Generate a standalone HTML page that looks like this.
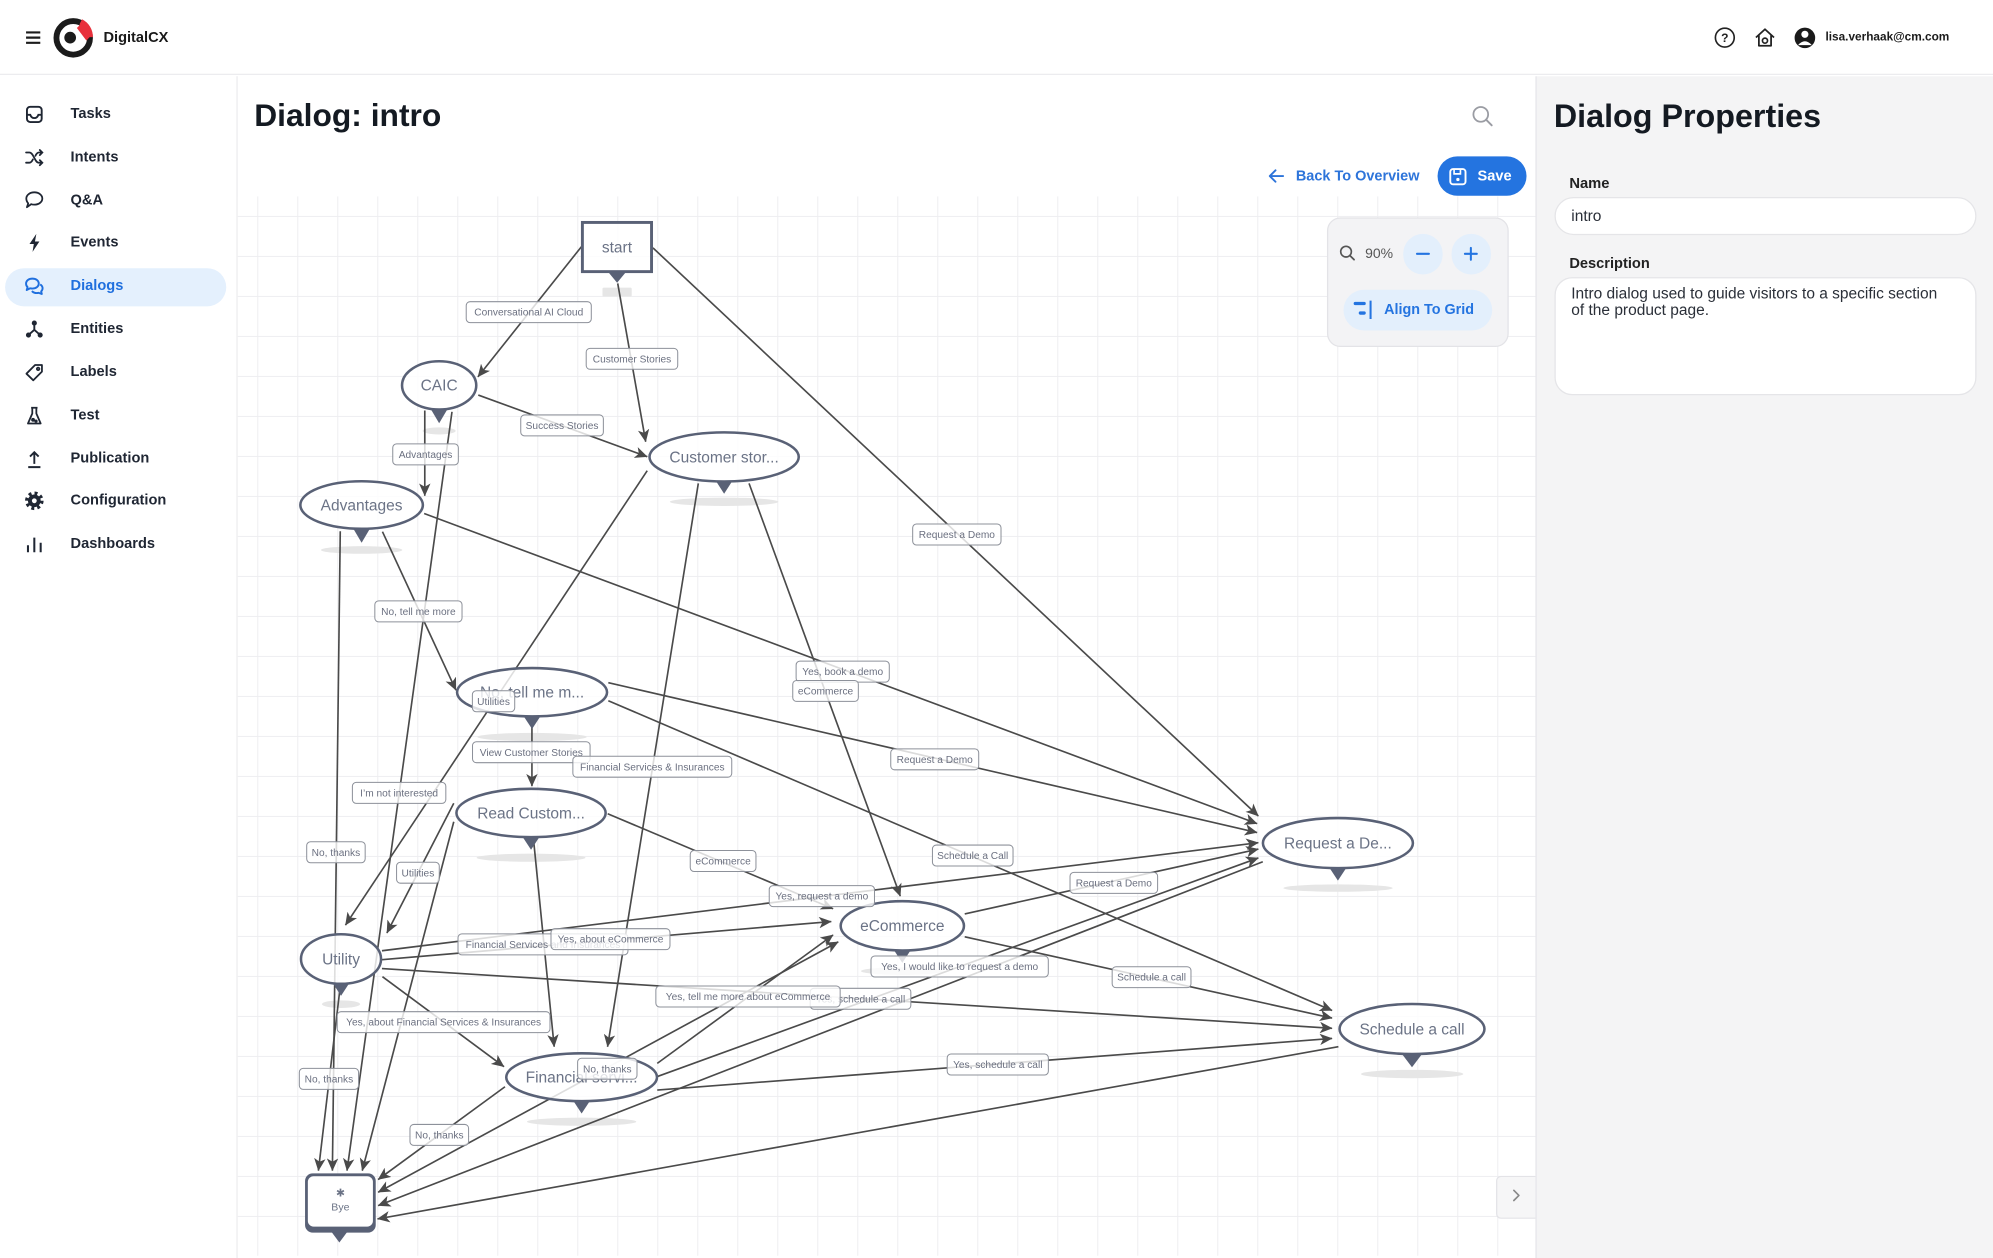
<!DOCTYPE html>
<html><head><meta charset="utf-8">
<style>
html,body{margin:0;padding:0;width:1993px;height:1255px;overflow:hidden;background:#fff;}
#root{position:absolute;left:0;top:0;width:1568px;height:988px;transform:scale(1.27105);transform-origin:0 0;font-family:"Liberation Sans",Arial,sans-serif;color:#1f2530;}
.abs{position:absolute;}
.nav{position:absolute;left:55.5px;font-size:11.5px;font-weight:bold;color:#1f2633;line-height:14px;white-space:nowrap;}
.ico{position:absolute;left:18.5px;width:16px;height:16px;}
.t{white-space:nowrap;position:absolute;}
</style></head>
<body><div id="root">

<!-- header -->
<div class="abs" style="left:0;top:0;width:1568px;height:58px;background:#fff;border-bottom:1.6px solid #ececef;"></div>
<svg class="abs" style="left:0;top:0" width="1568" height="58" viewBox="0 0 1568 58">
  <path d="M20.5 25.5h11.2M20.5 29.6h11.2M20.5 33.7h11.2" stroke="#1c1c1c" stroke-width="1.7"/>
  <circle cx="57.6" cy="29.8" r="13.2" fill="none" stroke="#1b1b1b" stroke-width="4.6"/>
  <path d="M63.5 17.2 A13.2 13.2 0 0 1 70.8 29.2" fill="none" stroke="#e8313c" stroke-width="4.6"/>
  <path d="M60.5 22 L68 32 L71.5 28 L64 18.5 Z" fill="#e8313c"/>
  <circle cx="55.2" cy="29.6" r="4.6" fill="#1b1b1b"/>
  <circle cx="1357" cy="29.6" r="7.4" fill="none" stroke="#222" stroke-width="1.3"/>
  <text x="1357" y="33.1" font-size="9.5" font-weight="bold" text-anchor="middle" fill="#222" font-family="Liberation Sans, sans-serif">?</text>
  <path d="M1381.5 29.5 L1388.6 23 L1395.7 29.5 M1383.8 27.8 V36 H1393.4 V27.8" fill="none" stroke="#222" stroke-width="1.4" stroke-linejoin="round"/>
  <circle cx="1388.6" cy="32" r="2" fill="none" stroke="#222" stroke-width="1.3"/>
  <circle cx="1420" cy="29.8" r="8.1" fill="#1a1a1a"/>
  <circle cx="1420" cy="27" r="2.8" fill="#fff"/>
  <path d="M1414.6 35.5 Q1420 29.5 1425.4 35.5" fill="#fff"/>
</svg>
<div class="t" style="left:81.4px;top:23.3px;font-size:11.5px;line-height:14px;font-weight:bold;color:#1a1a1a;">DigitalCX</div>
<div class="t" style="left:1436.2px;top:23.4px;font-size:9.3px;line-height:12px;font-weight:bold;color:#1a1a1a;">lisa.verhaak@cm.com</div>

<!-- sidebar -->
<div class="abs" style="left:0;top:59.6px;width:186px;height:930px;background:#fff;border-right:1.3px solid #ebebee;"></div>
<div class="abs" style="left:4px;top:211px;width:174px;height:30px;border-radius:15px;background:#e4f0fd;"></div>

<svg class="ico" style="top:81.7px" viewBox="0 0 16 16" fill="none" stroke="#1f2633" stroke-width="1.5"><rect x="2.2" y="2" width="11.6" height="12" rx="2.6"/><path d="M2.2 8.3h2.6c.6 1.7 1.7 2.6 3.2 2.6s2.6-.9 3.2-2.6h2.6"/></svg>
<div class="nav" style="top:82.8px">Tasks</div>

<svg class="ico" style="top:115.5px" viewBox="0 0 16 16" fill="none" stroke="#1f2633" stroke-width="1.4" stroke-linecap="round"><path d="M1.5 4h2.6c3.4 0 4.2 8 7.4 8h2.5M1.5 12h2.6c1.3 0 2.1-1.1 2.8-2.6M8.9 6.6C9.6 5 10.4 4 11.6 4h2.4M12.3 2l2 2-2 2M12.3 10l2 2-2 2"/></svg>
<div class="nav" style="top:116.6px">Intents</div>

<svg class="ico" style="top:149.4px" viewBox="0 0 16 16" fill="none" stroke="#1f2633" stroke-width="1.4" stroke-linejoin="round"><path d="M8 2.3c3.6 0 6.3 2.2 6.3 4.9S11.6 12 8 12c-.9 0-1.7-.1-2.4-.4L2.2 14l1-3C2.3 10 1.7 8.7 1.7 7.2 1.7 4.5 4.4 2.3 8 2.3z"/></svg>
<div class="nav" style="top:150.5px">Q&amp;A</div>

<svg class="ico" style="top:183.2px" viewBox="0 0 16 16"><path d="M9.6 1L4.2 9h3.4L6.6 15.2 12 7H8.5z" fill="#1f2633"/></svg>
<div class="nav" style="top:184.3px">Events</div>

<svg class="ico" style="top:217.3px" viewBox="0 0 16 16" fill="none" stroke="#1f6fde" stroke-width="1.5" stroke-linejoin="round"><path d="M6.5 2.2c2.9 0 5 1.7 5 3.9s-2.1 3.9-5 3.9c-.6 0-1.2-.1-1.7-.2L2 11.2l.7-2.3C1.9 8.2 1.5 7.2 1.5 6.1c0-2.2 2.1-3.9 5-3.9z"/><path d="M12.6 6.8c1.2.7 1.9 1.8 1.9 3 0 1-.4 1.8-1.1 2.5l.5 2-2.4-.9c-.5.1-1 .2-1.5.2-1.6 0-3-.6-3.9-1.6"/></svg>
<div class="nav" style="top:218.4px;color:#1f6fde">Dialogs</div>

<svg class="ico" style="top:250.9px" viewBox="0 0 16 16"><path d="M8 4v4.5L4 12M8 8.5l4 3.5" stroke="#1f2633" stroke-width="1.5" fill="none"/><circle cx="8" cy="3.2" r="2" fill="#1f2633"/><circle cx="3.4" cy="12.6" r="2" fill="#1f2633"/><circle cx="12.6" cy="12.6" r="2" fill="#1f2633"/></svg>
<div class="nav" style="top:252px">Entities</div>

<svg class="ico" style="top:284.9px" viewBox="0 0 16 16" fill="none" stroke="#1f2633" stroke-width="1.4" stroke-linejoin="round"><path d="M1.8 9L8.6 2.2 14 2.2 14 7.4 7.2 14.2z"/><circle cx="11" cy="5.2" r="1"/></svg>
<div class="nav" style="top:286px">Labels</div>

<svg class="ico" style="top:318.5px" viewBox="0 0 16 16" fill="none" stroke="#1f2633" stroke-width="1.4" stroke-linejoin="round"><path d="M5.5 1.8h5M6.4 1.8v4.5L3 14.2h10L9.6 6.3V1.8"/><circle cx="7" cy="11.3" r=".8" fill="#1f2633"/><circle cx="9.3" cy="12.3" r=".6" fill="#1f2633"/></svg>
<div class="nav" style="top:319.6px">Test</div>

<svg class="ico" style="top:352.6px" viewBox="0 0 16 16" fill="none" stroke="#1f2633" stroke-width="1.5"><path d="M8 12V2.8M4.6 6.2L8 2.8l3.4 3.4M3.2 14.5h9.6"/></svg>
<div class="nav" style="top:353.7px">Publication</div>

<svg class="ico" style="top:386.2px" viewBox="0 0 16 16"><circle cx="8" cy="8" r="6" fill="none" stroke="#1f2633" stroke-width="2.6" stroke-dasharray="2.3 2.41"/><circle cx="8" cy="8" r="5" fill="#1f2633"/><circle cx="8" cy="8" r="1.9" fill="#fff"/></svg>
<div class="nav" style="top:387.3px">Configuration</div>

<svg class="ico" style="top:420.3px" viewBox="0 0 16 16" fill="none" stroke="#1f2633" stroke-width="1.6"><path d="M3 14.5V9M8 14.5V3M13 14.5V7"/></svg>
<div class="nav" style="top:421.4px">Dashboards</div>

<!-- main title -->
<div class="t" style="left:200px;top:78px;font-size:25px;line-height:26px;font-weight:bold;color:#141a22;">Dialog: intro</div>
<svg class="abs" style="left:1156px;top:82px" width="22" height="20" viewBox="0 0 22 20"><circle cx="9" cy="8" r="5.8" fill="none" stroke="#9a9ca3" stroke-width="1.4"/><path d="M13.2 12.2 L17.6 16.6" stroke="#9a9ca3" stroke-width="1.5" stroke-linecap="round"/></svg>

<!-- diagram -->
<svg class="abs" style="left:0;top:0" width="1568" height="988" viewBox="0 0 1568 988">
<defs>
  <pattern id="grid" x="202.4" y="169.9" width="31.47" height="31.47" patternUnits="userSpaceOnUse">
    <path d="M0.4,0 V31.47 M0,0.4 H31.47" stroke="#eeeef1" stroke-width="0.75" fill="none"/>
  </pattern>
  <marker id="ar" viewBox="0 0 10 9" refX="9.6" refY="4.5" markerWidth="10" markerHeight="9" markerUnits="userSpaceOnUse" orient="auto-start-reverse">
    <path d="M0,0 L10,4.5 L0,9 L2.6,4.5 z" fill="#4a4a4a"/>
  </marker>
  <clipPath id="cv"><rect x="187" y="154.5" width="1021.3" height="834"/></clipPath>
</defs>
<g clip-path="url(#cv)">
  <rect x="187" y="154.5" width="1021.3" height="834" fill="#fff"/>
  <rect x="187" y="154.5" width="1021.3" height="834" fill="url(#grid)"/>

  <!-- shadows -->
  <g fill="#e6e6e6">
    <rect x="474" y="226.3" width="23" height="7" rx="1"/>
    <ellipse cx="345.5" cy="339" rx="13" ry="2.8"/>
    <ellipse cx="569.7" cy="394.8" rx="42.7" ry="3.3"/>
    <ellipse cx="284.5" cy="432.7" rx="32" ry="3"/>
    <ellipse cx="418.6" cy="579.8" rx="43" ry="3.2"/>
    <ellipse cx="417.8" cy="674.8" rx="42.8" ry="3.2"/>
    <ellipse cx="268.3" cy="790" rx="15" ry="3"/>
    <ellipse cx="709.9" cy="764" rx="32.5" ry="3"/>
    <ellipse cx="457.6" cy="882.5" rx="43" ry="3.2"/>
    <ellipse cx="1052.7" cy="698.7" rx="43" ry="2.9"/>
    <ellipse cx="1111" cy="845" rx="40.3" ry="3.3"/>
  </g>

  <!-- edges -->
  <g stroke="#4a4a4a" stroke-width="1.3" fill="none" marker-end="url(#ar)">
    <path d="M457.5,194 L376,296.5"/>
    <path d="M486,223 L508,347.5"/>
    <path d="M513.7,195 L990,642"/>
    <path d="M334.2,323 L334.2,390"/>
    <path d="M376.3,310.8 L509.2,359.3"/>
    <path d="M355.6,324 L273,921"/>
    <path d="M300.9,418.3 L358.7,543"/>
    <path d="M267.7,418 L261.5,921"/>
    <path d="M333.7,404 L989,648"/>
    <path d="M509.2,370.3 L271.8,727.8"/>
    <path d="M549.4,380.3 L478,823.5"/>
    <path d="M589.3,380.3 L708.3,705"/>
    <path d="M418.5,565 L418.5,618.5"/>
    <path d="M478.6,537.1 L989,655"/>
    <path d="M478.6,551.3 L1048,795"/>
    <path d="M478.1,640.2 L655.4,715"/>
    <path d="M419.7,660 L436,823.5"/>
    <path d="M357,632 L304.4,734"/>
    <path d="M357,646.5 L285,921"/>
    <path d="M300.5,748 L990,663"/>
    <path d="M300.5,755 L654,725"/>
    <path d="M300.5,762 L1048,809"/>
    <path d="M300.9,768.4 L396.5,839.2"/>
    <path d="M267.7,776 L250.5,921"/>
    <path d="M759,719 L990,668"/>
    <path d="M759,737 L1048,801"/>
    <path d="M297.5,938 L659.5,741" marker-start="url(#ar)"/>
    <path d="M517.1,836.6 L655.4,735.6"/>
    <path d="M517.1,847 L990,675"/>
    <path d="M517.1,857.6 L1048,817"/>
    <path d="M397.3,855 L297.5,928"/>
    <path d="M993.5,678 L297.5,948.5"/>
    <path d="M1053,823.5 L297,959"/>
  </g>

  <!-- nodes -->
  <g stroke="#596176" stroke-width="2" fill="#fff" fill-opacity="0.82">
    <rect x="458.2" y="175" width="54.4" height="38.7" stroke-width="2.3"/>
    <ellipse cx="345.5" cy="303.2" rx="29.2" ry="19"/>
    <ellipse cx="569.7" cy="359.5" rx="58.7" ry="19.3"/>
    <ellipse cx="284.5" cy="397.3" rx="48.2" ry="18.7"/>
    <ellipse cx="418.6" cy="544.6" rx="59" ry="19"/>
    <ellipse cx="417.8" cy="639.6" rx="58.7" ry="19"/>
    <ellipse cx="268.3" cy="754.5" rx="31.5" ry="19.5"/>
    <ellipse cx="457.6" cy="847.5" rx="59.3" ry="18.8"/>
    <ellipse cx="709.9" cy="728.4" rx="48.5" ry="19.4"/>
    <ellipse cx="1052.6" cy="663.3" rx="59" ry="19.7"/>
    <ellipse cx="1110.9" cy="809.6" rx="57" ry="19.7"/>
  </g>
  <!-- Bye node -->
  <rect x="240" y="923.2" width="55.6" height="46.6" rx="6" fill="#596176"/>
  <rect x="242.2" y="925.4" width="51.2" height="39.6" rx="4.5" fill="#fff"/>

  <!-- triangles -->
  <g fill="#596176">
    <polygon points="478.5,214 492.5,214 485.5,222.5"/>
    <polygon points="339,322 352,322 345.5,333"/>
    <polygon points="563,378 576.4,378 569.7,388.5"/>
    <polygon points="278,416 291,416 284.5,427"/>
    <polygon points="412,563.5 425.2,563.5 418.6,573.5"/>
    <polygon points="411.2,658.5 424.4,658.5 417.8,668.5"/>
    <polygon points="261.8,773.5 274.8,773.5 268.3,783.5"/>
    <polygon points="451,866 464.2,866 457.6,876"/>
    <polygon points="703.3,747.5 716.5,747.5 709.9,757.5"/>
    <polygon points="1046,682.8 1059.2,682.8 1052.6,692.8"/>
    <polygon points="1103,829.2 1118.8,829.2 1110.9,839.7"/>
    <polygon points="261,969.5 273,969.5 267,977.5"/>
  </g>

  <!-- node text -->
  <g font-family="Liberation Sans, sans-serif" font-size="12.2" fill="#6b7386" text-anchor="middle">
    <text x="485.4" y="198.6">start</text>
    <text x="345.5" y="307.4">CAIC</text>
    <text x="569.7" y="363.7">Customer stor...</text>
    <text x="284.5" y="401.5">Advantages</text>
    <text x="418.6" y="548.8">No, tell me m...</text>
    <text x="417.8" y="643.8">Read Custom...</text>
    <text x="268.3" y="758.7">Utility</text>
    <text x="457.6" y="851.7">Financial servi...</text>
    <text x="709.9" y="732.6">eCommerce</text>
    <text x="1052.6" y="667.5">Request a De...</text>
    <text x="1110.9" y="813.8">Schedule a call</text>
  </g>
  <text x="267.8" y="941.5" font-family="DejaVu Sans, sans-serif" font-size="8.5" fill="#6b7386" text-anchor="middle">✱</text>
  <text x="267.8" y="952.3" font-family="Liberation Sans, sans-serif" font-size="8.3" fill="#6b7386" text-anchor="middle">Bye</text>

  <!-- edge labels -->
  <g font-family="Liberation Sans, sans-serif" font-size="8" text-anchor="middle">
    <g><rect x="366.8" y="237.35" width="98.4" height="16.5" rx="3" fill="#fff" fill-opacity="0.8" stroke="#8d919a" stroke-width="0.8"/><text x="416" y="248.4" fill="#6b7080">Conversational AI Cloud</text></g>
    <g><rect x="461.2" y="274.05" width="72" height="16.5" rx="3" fill="#fff" fill-opacity="0.8" stroke="#8d919a" stroke-width="0.8"/><text x="497.2" y="285.1" fill="#6b7080">Customer Stories</text></g>
    <g><rect x="409.7" y="326.45" width="65" height="16.5" rx="3" fill="#fff" fill-opacity="0.8" stroke="#8d919a" stroke-width="0.8"/><text x="442.2" y="337.5" fill="#6b7080">Success Stories</text></g>
    <g><rect x="309" y="349.25" width="51.6" height="16.5" rx="3" fill="#fff" fill-opacity="0.8" stroke="#8d919a" stroke-width="0.8"/><text x="334.8" y="360.3" fill="#6b7080">Advantages</text></g>
    <g><rect x="718.05" y="412.25" width="69.5" height="16.5" rx="3" fill="#fff" fill-opacity="0.8" stroke="#8d919a" stroke-width="0.8"/><text x="752.8" y="423.3" fill="#6b7080">Request a Demo</text></g>
    <g><rect x="294.9" y="472.75" width="68.6" height="16.5" rx="3" fill="#fff" fill-opacity="0.8" stroke="#8d919a" stroke-width="0.8"/><text x="329.2" y="483.8" fill="#6b7080">No, tell me more</text></g>
    <g><rect x="626.35" y="520.15" width="73.3" height="16.5" rx="3" fill="#fff" fill-opacity="0.8" stroke="#8d919a" stroke-width="0.8"/><text x="663" y="531.2" fill="#6b7080">Yes, book a demo</text></g>
    <g><rect x="623.7" y="535.35" width="51.6" height="16.5" rx="3" fill="#fff" fill-opacity="0.8" stroke="#8d919a" stroke-width="0.8"/><text x="649.5" y="546.4" fill="#6b7080">eCommerce</text></g>
    <g><rect x="371.65" y="543.45" width="33.3" height="16.5" rx="3" fill="#fff" fill-opacity="0.8" stroke="#8d919a" stroke-width="0.8"/><text x="388.3" y="554.5" fill="#6b7080">Utilities</text></g>
    <g><rect x="371.75" y="583.55" width="92.5" height="16.5" rx="3" fill="#fff" fill-opacity="0.8" stroke="#8d919a" stroke-width="0.8"/><text x="418" y="594.6" fill="#6b7080">View Customer Stories</text></g>
    <g><rect x="450.7" y="594.95" width="125" height="16.5" rx="3" fill="#fff" fill-opacity="0.8" stroke="#8d919a" stroke-width="0.8"/><text x="513.2" y="606" fill="#6b7080">Financial Services &amp; Insurances</text></g>
    <g><rect x="700.8" y="589.15" width="69.2" height="16.5" rx="3" fill="#fff" fill-opacity="0.8" stroke="#8d919a" stroke-width="0.8"/><text x="735.4" y="600.2" fill="#6b7080">Request a Demo</text></g>
    <g><rect x="277.25" y="615.55" width="73.5" height="16.5" rx="3" fill="#fff" fill-opacity="0.8" stroke="#8d919a" stroke-width="0.8"/><text x="314" y="626.6" fill="#6b7080">I’m not interested</text></g>
    <g><rect x="241.3" y="662.25" width="46" height="16.5" rx="3" fill="#fff" fill-opacity="0.8" stroke="#8d919a" stroke-width="0.8"/><text x="264.3" y="673.3" fill="#6b7080">No, thanks</text></g>
    <g><rect x="733.6" y="664.85" width="63.4" height="16.5" rx="3" fill="#fff" fill-opacity="0.8" stroke="#8d919a" stroke-width="0.8"/><text x="765.3" y="675.9" fill="#6b7080">Schedule a Call</text></g>
    <g><rect x="543.05" y="669.15" width="51.7" height="16.5" rx="3" fill="#fff" fill-opacity="0.8" stroke="#8d919a" stroke-width="0.8"/><text x="568.9" y="680.2" fill="#6b7080">eCommerce</text></g>
    <g><rect x="312" y="678.35" width="33.6" height="16.5" rx="3" fill="#fff" fill-opacity="0.8" stroke="#8d919a" stroke-width="0.8"/><text x="328.8" y="689.4" fill="#6b7080">Utilities</text></g>
    <g><rect x="841.85" y="686.35" width="68.9" height="16.5" rx="3" fill="#fff" fill-opacity="0.8" stroke="#8d919a" stroke-width="0.8"/><text x="876.3" y="697.4" fill="#6b7080">Request a Demo</text></g>
    <g><rect x="605.2" y="696.75" width="82.8" height="16.5" rx="3" fill="#fff" fill-opacity="0.8" stroke="#8d919a" stroke-width="0.8"/><text x="646.6" y="707.8" fill="#6b7080">Yes, request a demo</text></g>
    <g><rect x="360.35" y="734.75" width="133.7" height="16.5" rx="3" fill="#fff" fill-opacity="0.8" stroke="#8d919a" stroke-width="0.8"/><text x="427.2" y="745.8" fill="#6b7080">Financial Services and Insurances</text></g>
    <g><rect x="433.5" y="730.65" width="93.6" height="16.5" rx="3" fill="#fff" fill-opacity="0.8" stroke="#8d919a" stroke-width="0.8"/><text x="480.3" y="741.7" fill="#6b7080">Yes, about eCommerce</text></g>
    <g><rect x="685.25" y="752.15" width="139.5" height="16.5" rx="3" fill="#fff" fill-opacity="0.8" stroke="#8d919a" stroke-width="0.8"/><text x="755" y="763.2" fill="#6b7080">Yes, I would like to request a demo</text></g>
    <g><rect x="875" y="760.55" width="62" height="16.5" rx="3" fill="#fff" fill-opacity="0.8" stroke="#8d919a" stroke-width="0.8"/><text x="906" y="771.6" fill="#6b7080">Schedule a call</text></g>
    <g><rect x="637.4" y="777.55" width="79.2" height="16.5" rx="3" fill="#fff" fill-opacity="0.8" stroke="#8d919a" stroke-width="0.8"/><text x="677" y="788.6" fill="#6b7080">Yes, schedule a call</text></g>
    <g><rect x="516" y="775.75" width="145" height="16.5" rx="3" fill="#fff" fill-opacity="0.8" stroke="#8d919a" stroke-width="0.8"/><text x="588.5" y="786.8" fill="#6b7080">Yes, tell me more about eCommerce</text></g>
    <g><rect x="265.3" y="795.95" width="167.4" height="16.5" rx="3" fill="#fff" fill-opacity="0.8" stroke="#8d919a" stroke-width="0.8"/><text x="349" y="807" fill="#6b7080">Yes, about Financial Services &amp; Insurances</text></g>
    <g><rect x="454.45" y="832.55" width="46.7" height="16.5" rx="3" fill="#fff" fill-opacity="0.8" stroke="#8d919a" stroke-width="0.8"/><text x="477.8" y="843.6" fill="#6b7080">No, thanks</text></g>
    <g><rect x="745.2" y="829.25" width="79.6" height="16.5" rx="3" fill="#fff" fill-opacity="0.8" stroke="#8d919a" stroke-width="0.8"/><text x="785" y="840.3" fill="#6b7080">Yes, schedule a call</text></g>
    <g><rect x="235.5" y="840.55" width="46.6" height="16.5" rx="3" fill="#fff" fill-opacity="0.8" stroke="#8d919a" stroke-width="0.8"/><text x="258.8" y="851.6" fill="#6b7080">No, thanks</text></g>
    <g><rect x="322.55" y="884.65" width="46.1" height="16.5" rx="3" fill="#fff" fill-opacity="0.8" stroke="#8d919a" stroke-width="0.8"/><text x="345.6" y="895.7" fill="#6b7080">No, thanks</text></g>
  </g>
</g>
</svg>

<!-- back / save -->
<svg class="abs" style="left:997px;top:132px" width="14" height="13" viewBox="0 0 14 13"><path d="M12.5 6.5H2.2M6.5 2L2 6.5 6.5 11" fill="none" stroke="#2d74da" stroke-width="1.5" stroke-linecap="round" stroke-linejoin="round"/></svg>
<div class="t" style="left:1019.5px;top:131.6px;font-size:11.4px;line-height:14px;font-weight:bold;color:#2d74da;">Back To Overview</div>
<div class="abs" style="left:1131.4px;top:122.7px;width:69.7px;height:31.3px;border-radius:16px;background:#2474e0;"></div>
<svg class="abs" style="left:1140px;top:131.5px" width="14" height="14" viewBox="0 0 14 14"><rect x="1" y="1" width="12" height="12" rx="2.2" fill="none" stroke="#fff" stroke-width="1.5"/><path d="M4 1.5v3.3h5V1.5" fill="none" stroke="#fff" stroke-width="1.3"/><circle cx="7" cy="9.2" r="1.3" fill="#fff"/></svg>
<div class="t" style="left:1162.4px;top:131.5px;font-size:11.5px;line-height:14px;font-weight:bold;color:#fff;">Save</div>

<!-- zoom panel -->
<div class="abs" style="left:1043.8px;top:170.5px;width:141.6px;height:100.8px;border-radius:10.5px;background:#f3f3f5;border:1.3px solid #e3e3e7;"></div>
<svg class="abs" style="left:1053px;top:192px" width="14" height="14" viewBox="0 0 14 14"><circle cx="6" cy="6" r="4.2" fill="none" stroke="#555" stroke-width="1.3"/><path d="M9 9l3.3 3.3" stroke="#555" stroke-width="1.4" stroke-linecap="round"/></svg>
<div class="t" style="left:1074px;top:193.1px;font-size:11px;line-height:14px;color:#555;">90%</div>
<div class="abs" style="left:1104px;top:184.3px;width:31.3px;height:31.3px;border-radius:50%;background:#e3effc;"></div>
<div class="abs" style="left:1141.7px;top:184.3px;width:31.3px;height:31.3px;border-radius:50%;background:#e3effc;"></div>
<svg class="abs" style="left:1104px;top:184.3px" width="70" height="32" viewBox="0 0 70 32"><path d="M10.8 15.7h9.4" stroke="#2474e0" stroke-width="1.6" stroke-linecap="round"/><path d="M48.5 15.7h9.4M53.2 11v9.4" stroke="#2474e0" stroke-width="1.6" stroke-linecap="round"/></svg>
<div class="abs" style="left:1057.4px;top:228.2px;width:116.2px;height:31.4px;border-radius:16px;background:#e3effc;"></div>
<svg class="abs" style="left:1063.5px;top:235px" width="18" height="18" viewBox="0 0 18 18"><rect x="1" y="2.5" width="9.5" height="2.6" rx="1.2" fill="#2474e0"/><rect x="5" y="10" width="5.5" height="2.6" rx="1.2" fill="#2474e0"/><path d="M14.3 1.5v14.5" stroke="#2474e0" stroke-width="1.6"/></svg>
<div class="t" style="left:1089px;top:237.1px;font-size:11.3px;line-height:14px;font-weight:bold;color:#2474e0;">Align To Grid</div>

<!-- chevron button -->
<div class="abs" style="left:1177px;top:924.5px;width:31px;height:32px;background:#f6f6f7;border:1px solid #e3e3e7;border-right:none;border-radius:4px 0 0 4px;"></div>
<svg class="abs" style="left:1187px;top:934px" width="12" height="13" viewBox="0 0 12 13"><path d="M4 2.5l4 4-4 4" fill="none" stroke="#888" stroke-width="1.3" stroke-linecap="round" stroke-linejoin="round"/></svg>

<!-- right panel -->
<div class="abs" style="left:1208.3px;top:59.6px;width:360px;height:930px;background:#f4f4f5;border-left:1.3px solid #e6e6ea;"></div>
<div class="t" style="left:1222.5px;top:79px;font-size:25.4px;line-height:26px;font-weight:bold;color:#141a22;">Dialog Properties</div>
<div class="t" style="left:1234.7px;top:137.9px;font-size:11.6px;line-height:14px;font-weight:bold;color:#222;">Name</div>
<div class="abs" style="left:1223.4px;top:155.2px;width:330px;height:27.8px;border-radius:15px;background:#fff;border:1.3px solid #e5e5e8;"></div>
<div class="t" style="left:1236.2px;top:163.1px;font-size:12.2px;line-height:14px;color:#2a2f38;">intro</div>
<div class="t" style="left:1234.7px;top:200.8px;font-size:11.5px;line-height:14px;font-weight:bold;color:#222;">Description</div>
<div class="abs" style="left:1223.4px;top:218.2px;width:330px;height:90.8px;border-radius:14px;background:#fff;border:1.3px solid #e5e5e8;"></div>
<div class="t" style="left:1236.2px;top:225.1px;font-size:12.2px;line-height:12.6px;color:#2a2f38;">Intro dialog used to guide visitors to a specific section<br>of the product page.</div>

</div></body></html>
